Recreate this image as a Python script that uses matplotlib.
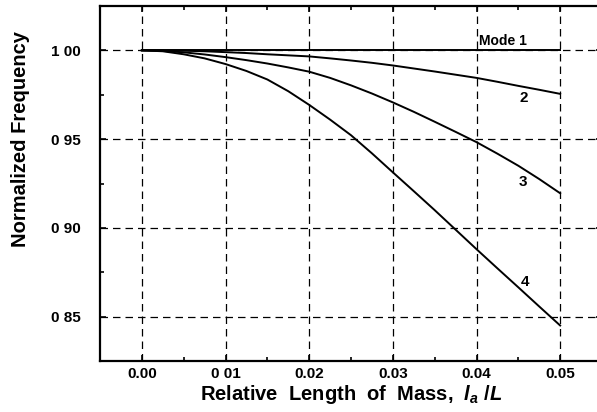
import numpy as np
import matplotlib
matplotlib.use('Agg')
import matplotlib.pyplot as plt
from matplotlib.ticker import FixedLocator, FixedFormatter, MultipleLocator

plt.rcParams['font.family'] = ['Liberation Sans', 'DejaVu Sans']
plt.rcParams['font.weight'] = 'bold'
plt.rcParams['axes.labelweight'] = 'bold'
plt.rcParams['mathtext.fontset'] = 'custom'
plt.rcParams['mathtext.it'] = 'Liberation Sans:italic:bold'
plt.rcParams['mathtext.rm'] = 'Liberation Sans:bold'

length = [0.0, 0.0025, 0.005, 0.0075, 0.01, 0.0125, 0.015, 0.0175, 0.02, 0.0225, 0.025,
          0.0275, 0.03, 0.0325, 0.035, 0.0375, 0.04, 0.0425, 0.045, 0.0475, 0.05]
mode1 = [1.0] * len(length)
mode2 = [1.0, 0.99995, 0.9998, 0.9995, 0.9990, 0.9985, 0.9978, 0.9972, 0.9966, 0.9955, 0.9943,
         0.9930, 0.9915, 0.9898, 0.9881, 0.9863, 0.9845, 0.9823, 0.9800, 0.9778, 0.9755]
mode3 = [1.0, 0.9997, 0.9989, 0.9977, 0.9962, 0.9945, 0.9926, 0.9904, 0.9880, 0.9845, 0.9803,
         0.9757, 0.9707, 0.9654, 0.9598, 0.9541, 0.9483, 0.9418, 0.9350, 0.9275, 0.9195]
mode4 = [1.0, 0.9995, 0.9978, 0.9955, 0.9923, 0.9884, 0.9836, 0.9770, 0.9693, 0.9610, 0.9522,
         0.9420, 0.9313, 0.9207, 0.9100, 0.8990, 0.8880, 0.8772, 0.8665, 0.8557, 0.8450]
curve_labels = ['Mode 1', '2', '3', '4']

xticks = [0.0, 0.01, 0.02, 0.03, 0.04, 0.05]
xticklabels = ['0.00', '0 01', '0.02', '0.03', '0.04', '0.05']
yticks = [0.85, 0.90, 0.95, 1.00]
yticklabels = ['0 85', '0 90', '0 95', '1 00']

fig = plt.figure(figsize=(5.97, 4.12), dpi=100)
ax = fig.add_axes([100/597, 51/412, 502/597, 355/412])

grid = dict(color='black', lw=0.9, ls=(0, (6, 4)), zorder=1)
for xv in xticks:
    ax.axvline(xv, **grid)
for yv in yticks:
    ax.axhline(yv, **grid)

for ys in [mode1, mode2, mode3, mode4]:
    ax.plot(length, ys, color='black', lw=1.4, zorder=3)

ax.text(0.0403, 1.0052, curve_labels[0], fontsize=10, va='center', ha='left')
ax.text(0.0457, 0.9731, curve_labels[1], fontsize=11, va='center', ha='center')
ax.text(0.0455, 0.9259, curve_labels[2], fontsize=11, va='center', ha='center')
ax.text(0.0458, 0.8693, curve_labels[3], fontsize=11, va='center', ha='center')

ax.set_xlim(-0.005, 0.055)
ax.set_ylim(0.825, 1.025)
ax.xaxis.set_major_locator(FixedLocator(xticks))
ax.xaxis.set_major_formatter(FixedFormatter(xticklabels))
ax.yaxis.set_major_locator(FixedLocator(yticks))
ax.yaxis.set_major_formatter(FixedFormatter(yticklabels))
ax.xaxis.set_minor_locator(MultipleLocator(0.005))
ax.yaxis.set_minor_locator(MultipleLocator(0.025))
ax.tick_params(which='both', direction='in', top=True, right=True, width=1.2)
ax.tick_params(which='major', length=4, labelsize=11)
ax.tick_params(which='minor', length=3)
ax.tick_params(axis='y', pad=14)
ax.tick_params(axis='x', pad=4)
for s in ax.spines.values():
    s.set_linewidth(1.6)

ax.set_xlabel('Relative  Length  of  Mass,  $l_a$ /$L$', fontsize=14.5, labelpad=2)
# y label sits above the middle of the axis in the original
fig.text(21/597, 1 - 139/412, 'Normalized Frequency', rotation=90, fontsize=14.5,
         fontweight='bold', ha='center', va='center')

fig.savefig('out.png', dpi=100)
